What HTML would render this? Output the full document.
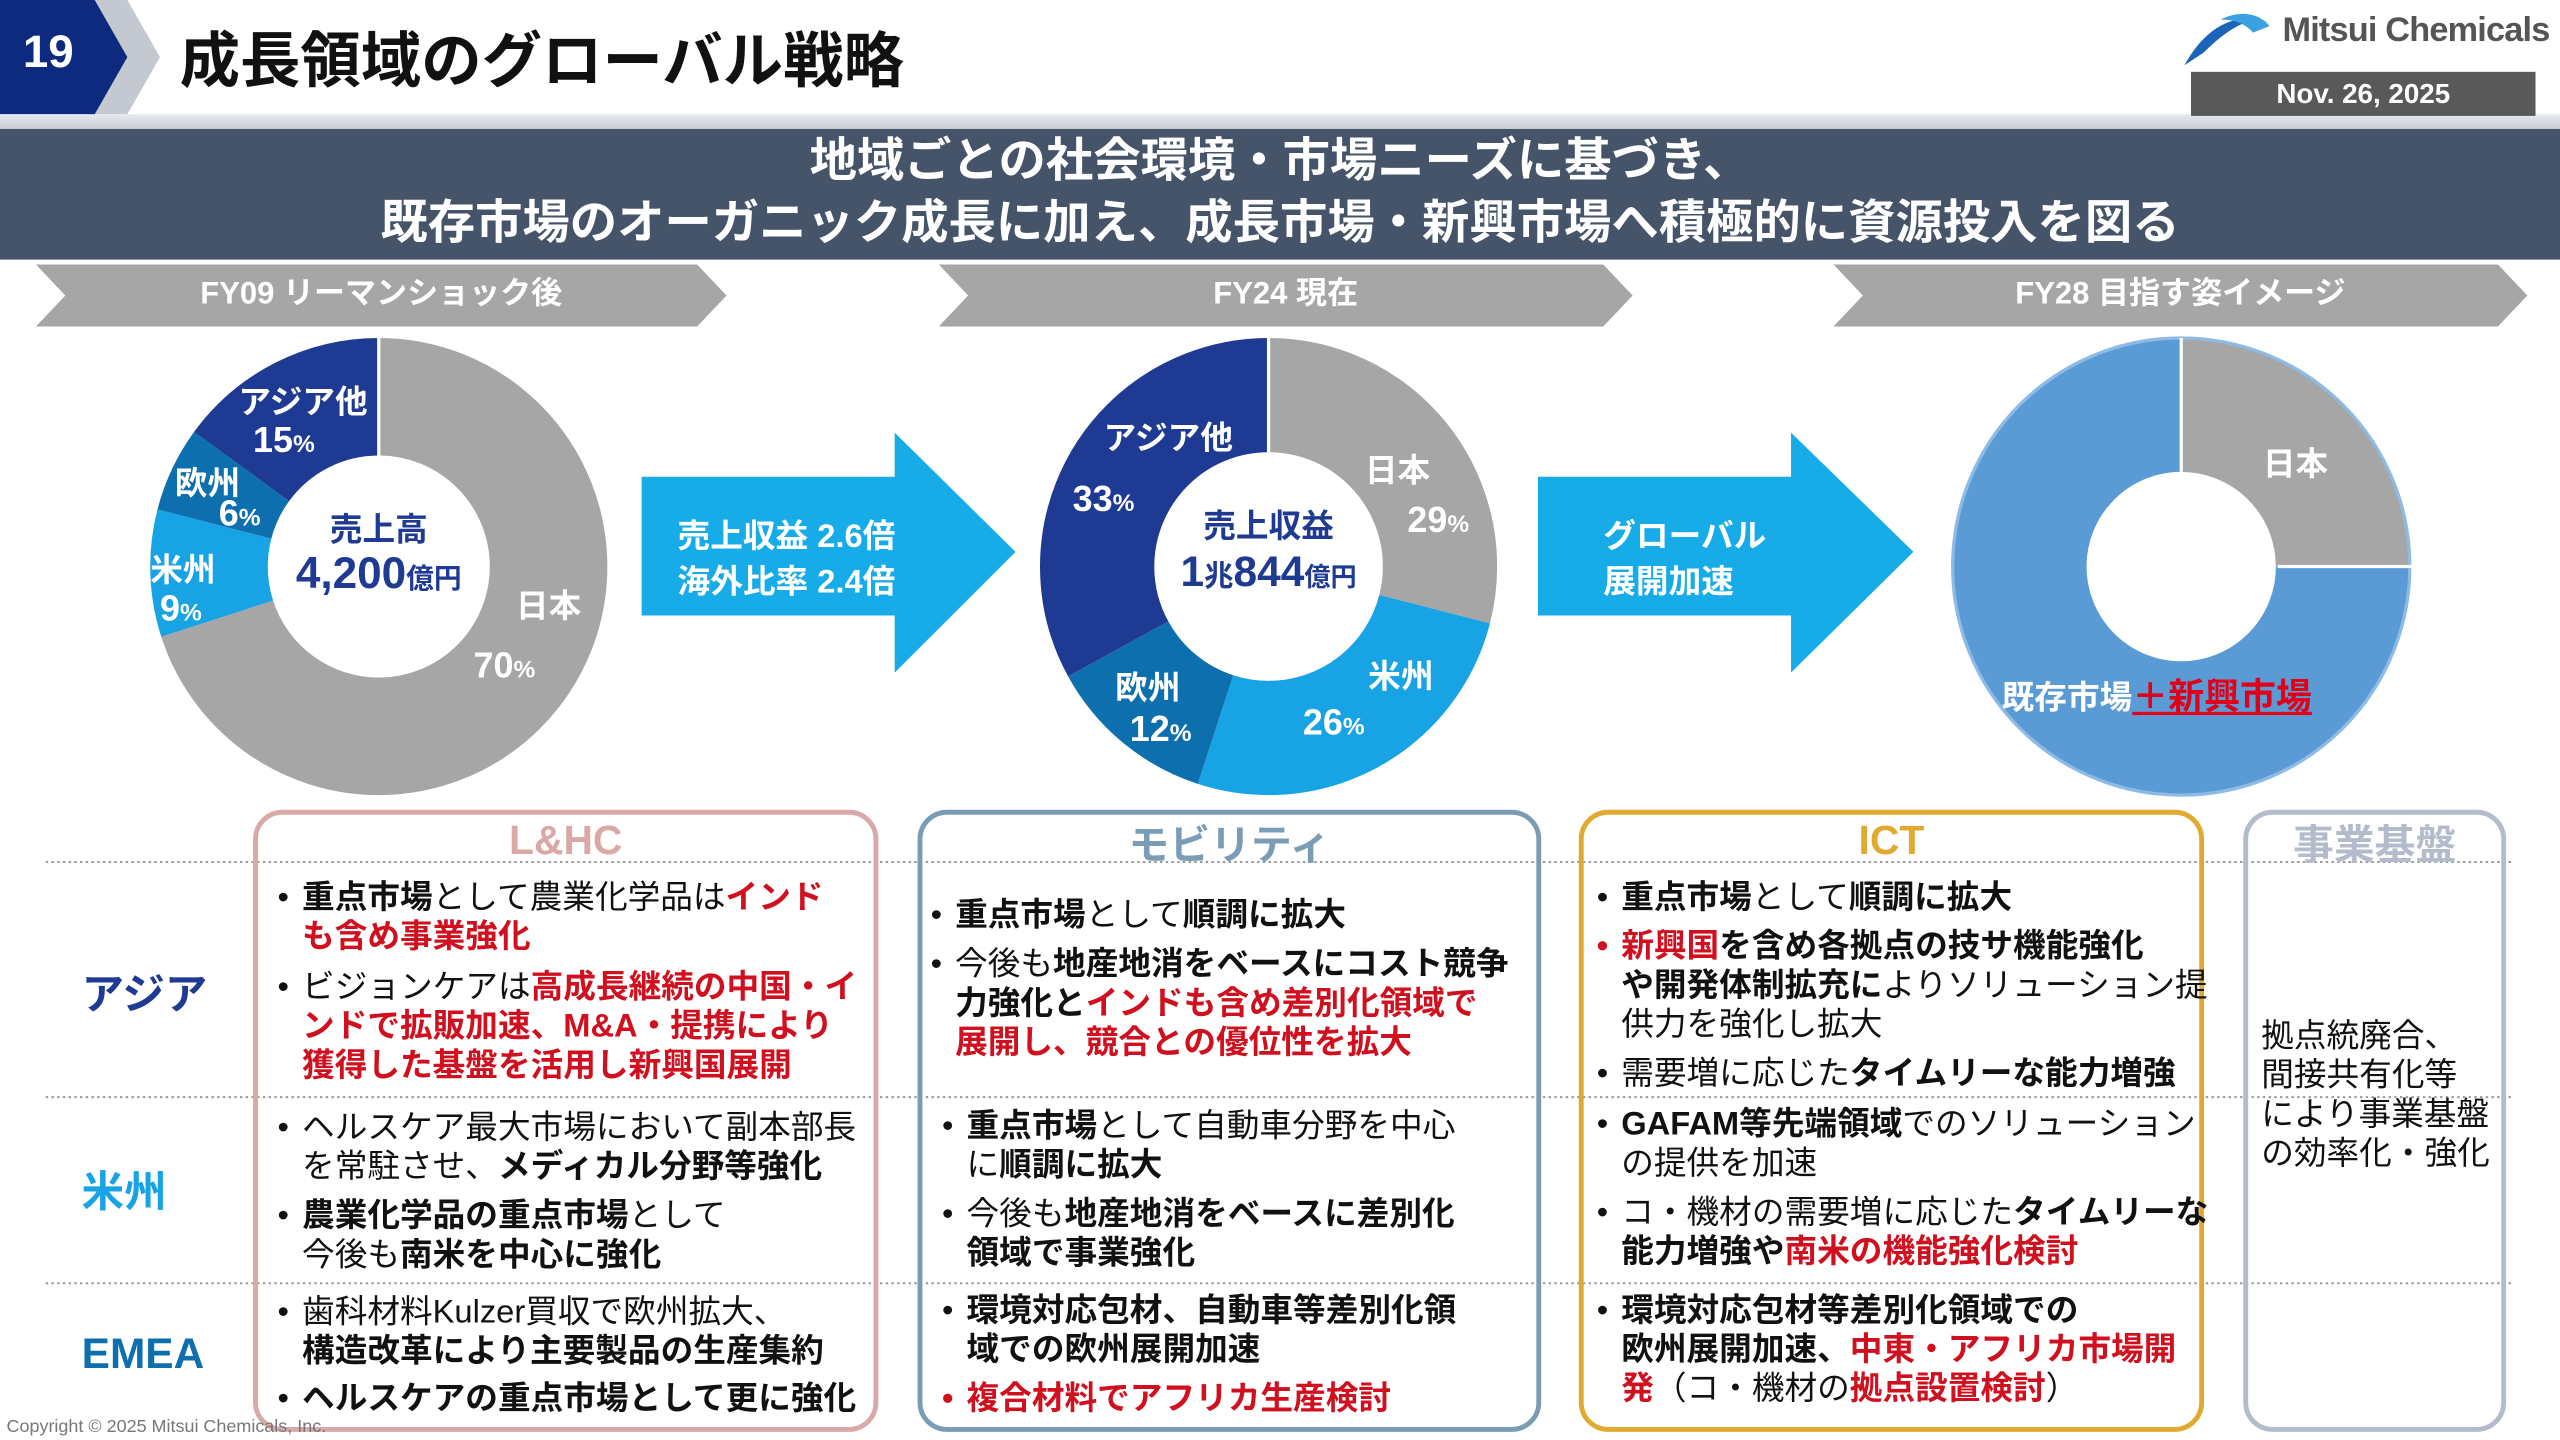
<!DOCTYPE html>
<html><head><meta charset="utf-8"><style>
html,body{margin:0;padding:0;width:2560px;height:1440px;overflow:hidden;background:#fff}
#r{position:absolute;left:0;top:0;width:1568px;height:882px;transform:scale(1.632653);transform-origin:0 0;font-family:"Liberation Sans","Noto Sans CJK JP",sans-serif;}
.a{position:absolute;white-space:nowrap}
.t{position:absolute;white-space:nowrap;font-size:20px;line-height:24px;color:#111;font-weight:400;padding-left:15px;text-indent:-15px}
.t i{font-style:normal;display:inline-block;width:15px;text-indent:0}
.t b{font-weight:700}
.t .r{color:#d0101e;font-weight:700}
.box{position:absolute;border:3px solid;border-radius:18px;box-sizing:border-box}
.bt{position:absolute;left:0;right:0;top:2px;text-align:center;font-weight:700;font-size:25px}
.lab{position:absolute;font-weight:700;font-size:26px}
</style></head><body><div id="r">
<svg class="a" style="left:0;top:0" width="1568" height="882" viewBox="0 0 1568 882">
<defs><linearGradient id="g" x1="0" y1="0" x2="0" y2="1"><stop offset="0" stop-color="#e6e9ee"/><stop offset="1" stop-color="#c9ced6"/></linearGradient></defs>
<polygon points="55,0 78,0 98,35 78,70 55,70 75,35" fill="#c4c9d1"/>
<polygon points="0,0 58,0 78,35 58,70 0,70" fill="#0d2a7e"/>
<rect x="0" y="70" width="1568" height="9" fill="url(#g)"/>
<rect x="0" y="79" width="1568" height="80" fill="#465469"/>
<polygon points="22,162 427,162 445,181 427,200 22,200 40,181" fill="#a6a6a6"/>
<polygon points="575,162 982,162 1000,181 982,200 575,200 593,181" fill="#a6a6a6"/>
<polygon points="1123,162 1530,162 1548,181 1530,200 1123,200 1141,181" fill="#a6a6a6"/>
<g transform="rotate(-90 232 347)" fill="none" stroke-width="72">
<circle cx="232" cy="347" r="104" stroke="#a6a6a6" stroke-dasharray="457.4 700" stroke-dashoffset="0"/>
<circle cx="232" cy="347" r="104" stroke="#18a3e4" stroke-dasharray="58.8 700" stroke-dashoffset="-457.4"/>
<circle cx="232" cy="347" r="104" stroke="#0e6fae" stroke-dasharray="39.2 700" stroke-dashoffset="-516.2"/>
<circle cx="232" cy="347" r="104" stroke="#1f3a93" stroke-dasharray="98 700" stroke-dashoffset="-555.4"/>
</g>
<line x1="232" y1="207" x2="232" y2="279" stroke="#fff" stroke-width="2"/>
<g transform="rotate(-90 777 347)" fill="none" stroke-width="70">
<circle cx="777" cy="347" r="105" stroke="#a6a6a6" stroke-dasharray="191.3 700" stroke-dashoffset="0"/>
<circle cx="777" cy="347" r="105" stroke="#18a3e4" stroke-dasharray="171.5 700" stroke-dashoffset="-191.3"/>
<circle cx="777" cy="347" r="105" stroke="#0e6fae" stroke-dasharray="79.2 700" stroke-dashoffset="-362.8"/>
<circle cx="777" cy="347" r="105" stroke="#1f3a93" stroke-dasharray="217.7 700" stroke-dashoffset="-442"/>
</g>
<line x1="777" y1="207" x2="777" y2="277" stroke="#fff" stroke-width="2"/>
<g transform="rotate(-90 1336 347)" fill="none" stroke-width="82">
<circle cx="1336" cy="347" r="99" stroke="#5b9bd5" stroke-dasharray="700 700"/>
<circle cx="1336" cy="347" r="99" stroke="#a6a6a6" stroke-dasharray="155.5 700" stroke-dashoffset="0"/>
</g>
<circle cx="1336" cy="347" r="140" fill="none" stroke="#8dbbe6" stroke-width="2"/>
<line x1="1336" y1="207" x2="1336" y2="289" stroke="#fff" stroke-width="2"/>
<line x1="1395" y1="347" x2="1477" y2="347" stroke="#fff" stroke-width="2"/>
<polygon points="393,292 548,292 548,265 622,338 548,412 548,377 393,377" fill="#17ace8"/>
<polygon points="942,292 1097,292 1097,265 1172,338 1097,412 1097,377 942,377" fill="#17ace8"/>
<g stroke="#999" stroke-width="1.2" stroke-dasharray="1.5 2">
<line x1="28" y1="528" x2="1540" y2="528"/>
<line x1="28" y1="672" x2="1540" y2="672"/>
<line x1="28" y1="786" x2="1540" y2="786"/>
</g>
<path d="M1338,40 C1350,18 1368,6 1390,14 C1378,8 1362,20 1350,32 Z" fill="#1b64b8"/>
<path d="M1360,12 C1372,6 1384,8 1390,16 L1380,20 C1375,14 1368,12 1360,12Z" fill="#3aa0e0"/>
</svg>
<div class="a" style="left:14px;top:16px;color:#fff;font-weight:700;font-size:28px">19</div>
<div class="a" style="left:110px;top:14px;font-weight:700;font-size:37px;color:#111;line-height:48px">成長領域のグローバル戦略</div>
<div class="a" style="left:1398px;top:7px;font-size:21px;color:#555;font-weight:700;letter-spacing:-0.5px">Mitsui Chemicals</div>
<div class="a" style="left:1342px;top:44px;width:211px;height:27px;background:#595959;color:#fff;font-weight:700;font-size:17px;text-align:center;line-height:27px">Nov. 26, 2025</div>
<div class="a" style="left:0;width:1568px;top:80px;text-align:center;color:#fff;font-weight:700;font-size:29px;line-height:38px">地域ごとの社会環境・市場ニーズに基づき、<br>既存市場のオーガニック成長に加え、成長市場・新興市場へ積極的に資源投入を図る</div>
<div class="a" style="left:22px;width:423px;top:168px;text-align:center;color:#fff;font-weight:700;font-size:19px;line-height:26px">FY09 リーマンショック後</div>
<div class="a" style="left:575px;width:425px;top:168px;text-align:center;color:#fff;font-weight:700;font-size:19px;line-height:26px">FY24 現在</div>
<div class="a" style="left:1123px;width:425px;top:168px;text-align:center;color:#fff;font-weight:700;font-size:19px;line-height:26px">FY28 目指す姿イメージ</div>
<div style="position:absolute;color:#fff;font-weight:700;font-size:20px">
<div class="a" style="left:146px;top:230px">アジア他</div>
<div class="a" style="left:155px;top:257px;font-size:22px">15<span style="font-size:15px">%</span></div>
<div class="a" style="left:107px;top:280px">欧州</div>
<div class="a" style="left:134px;top:302px;font-size:22px">6<span style="font-size:15px">%</span></div>
<div class="a" style="left:92px;top:333px">米州</div>
<div class="a" style="left:98px;top:360px;font-size:22px">9<span style="font-size:15px">%</span></div>
<div class="a" style="left:316px;top:355px">日本</div>
<div class="a" style="left:290px;top:395px;font-size:22px">70<span style="font-size:15px">%</span></div>
<div class="a" style="left:676px;top:252px">アジア他</div>
<div class="a" style="left:657px;top:293px;font-size:22px">33<span style="font-size:15px">%</span></div>
<div class="a" style="left:836px;top:272px">日本</div>
<div class="a" style="left:862px;top:306px;font-size:22px">29<span style="font-size:15px">%</span></div>
<div class="a" style="left:838px;top:398px">米州</div>
<div class="a" style="left:798px;top:430px;font-size:22px">26<span style="font-size:15px">%</span></div>
<div class="a" style="left:683px;top:405px">欧州</div>
<div class="a" style="left:692px;top:434px;font-size:22px">12<span style="font-size:15px">%</span></div>
<div class="a" style="left:1386px;top:268px">日本</div>
<div class="a" style="left:415px;top:312px;font-size:20px">売上収益 2.6倍</div>
<div class="a" style="left:415px;top:340px;font-size:20px">海外比率 2.4倍</div>
<div class="a" style="left:982px;top:312px;font-size:20px">グローバル</div>
<div class="a" style="left:982px;top:340px;font-size:20px">展開加速</div>
<div class="a" style="left:1226px;top:409px;font-size:20px">既存市場<span style="color:#e0001a;text-decoration:underline;font-size:22px">＋新興市場</span></div>
</div>
<div class="a" style="left:164px;width:136px;top:308px;text-align:center;color:#1f3a93;font-weight:700;font-size:20px">売上高</div>
<div class="a" style="left:160px;width:144px;top:336px;text-align:center;color:#1f3a93;font-weight:700;font-size:27px">4,200<span style="font-size:17px">億円</span></div>
<div class="a" style="left:707px;width:140px;top:306px;text-align:center;color:#1f3a93;font-weight:700;font-size:20px">売上収益</div>
<div class="a" style="left:700px;width:154px;top:335px;text-align:center;color:#1f3a93;font-weight:700;font-size:26px">1<span style="font-size:18px">兆</span>844<span style="font-size:16px">億円</span></div>
<div class="lab" style="left:50px;top:589px;color:#1f3a93">アジア</div>
<div class="lab" style="left:50px;top:710px;color:#18a3e4">米州</div>
<div class="lab" style="left:50px;top:814px;color:#0e6fae">EMEA</div>
<div class="box" style="left:155px;top:496px;width:383px;height:381px;border-color:#d9a9a9"><div class="bt" style="color:#dba8a8">L&amp;HC</div></div>
<div class="box" style="left:562px;top:496px;width:382px;height:381px;border-color:#7a9db5"><div class="bt" style="color:#7a9db5;top:-1px">モビリティ</div></div>
<div class="box" style="left:967px;top:496px;width:383px;height:381px;border-color:#e0aa30"><div class="bt" style="color:#e0aa30">ICT</div></div>
<div class="box" style="left:1374px;top:496px;width:161px;height:381px;border-color:#b4bccb"><div class="bt" style="color:#b4bccb;top:-1px">事業基盤</div></div>
<div class="t" style="left:170px;top:538px"><i>•</i><b>重点市場</b>として農業化学品は<span class="r">インド</span><br><span class="r">も含め事業強化</span></div>
<div class="t" style="left:170px;top:593px"><i>•</i>ビジョンケアは<span class="r">高成長継続の中国・イ</span><br><span class="r">ンドで拡販加速、M&amp;A・提携により</span><br><span class="r">獲得した基盤を活用し新興国展開</span></div>
<div class="t" style="left:170px;top:679px"><i>•</i>ヘルスケア最大市場において副本部長<br>を常駐させ、<b>メディカル分野等強化</b></div>
<div class="t" style="left:170px;top:733px"><i>•</i><b>農業化学品の重点市場</b>として<br>今後も<b>南米を中心に強化</b></div>
<div class="t" style="left:170px;top:792px"><i>•</i>歯科材料Kulzer買収で欧州拡大、<br><b>構造改革により主要製品の生産集約</b></div>
<div class="t" style="left:170px;top:845px"><i>•</i><b>ヘルスケアの重点市場として更に強化</b></div>
<div class="t" style="left:570px;top:549px"><i>•</i><b>重点市場</b>として<b>順調に拡大</b></div>
<div class="t" style="left:570px;top:579px"><i>•</i>今後も<b>地産地消をベースにコスト競争</b><br><b>力強化と</b><span class="r">インドも含め差別化領域で</span><br><span class="r">展開し、競合との優位性を拡大</span></div>
<div class="t" style="left:577px;top:678px"><i>•</i><b>重点市場</b>として自動車分野を中心<br>に<b>順調に拡大</b></div>
<div class="t" style="left:577px;top:732px"><i>•</i>今後も<b>地産地消をベースに差別化</b><br><b>領域で事業強化</b></div>
<div class="t" style="left:577px;top:791px"><i>•</i><b>環境対応包材、自動車等差別化領</b><br><b>域での欧州展開加速</b></div>
<div class="t" style="left:577px;top:845px"><span class="r"><i>•</i>複合材料でアフリカ生産検討</span></div>
<div class="t" style="left:978px;top:538px"><i>•</i><b>重点市場</b>として<b>順調に拡大</b></div>
<div class="t" style="left:978px;top:568px"><span class="r"><i>•</i>新興国</span><b>を含め各拠点の技サ機能強化</b><br><b>や開発体制拡充に</b>よりソリューション提<br>供力を強化し拡大</div>
<div class="t" style="left:978px;top:646px"><i>•</i>需要増に応じた<b>タイムリーな能力増強</b></div>
<div class="t" style="left:978px;top:677px"><i>•</i><b>GAFAM等先端領域</b>でのソリューション<br>の提供を加速</div>
<div class="t" style="left:978px;top:731px"><i>•</i>コ・機材の需要増に応じた<b>タイムリーな</b><br><b>能力増強や</b><span class="r">南米の機能強化検討</span></div>
<div class="t" style="left:978px;top:791px"><i>•</i><b>環境対応包材等差別化領域での</b><br><b>欧州展開加速、</b><span class="r">中東・アフリカ市場開</span><br><span class="r">発</span>（コ・機材の<span class="r">拠点設置検討</span>）</div>
<div class="t" style="left:1385px;top:623px;padding-left:0;text-indent:0">拠点統廃合、<br>間接共有化等<br>により事業基盤<br>の効率化・強化</div>
<div class="a" style="left:4px;top:868px;font-size:11px;color:#777">Copyright © 2025 Mitsui Chemicals, Inc.</div>
</div></body></html>
